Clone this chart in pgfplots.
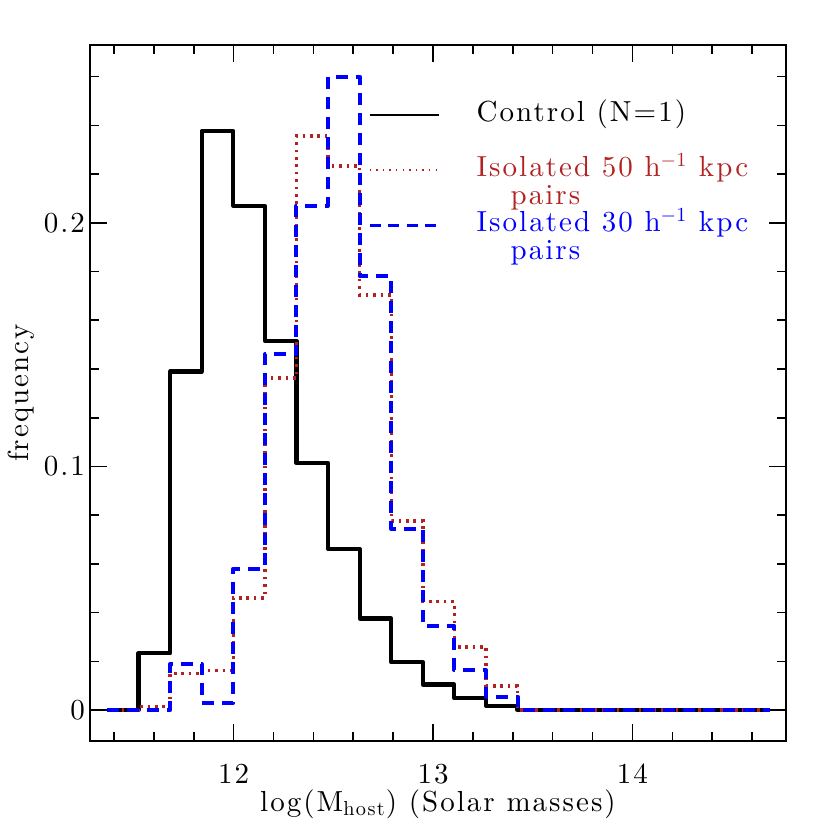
\documentclass[border=0pt]{standalone}
\usepackage{fontspec}
\setmainfont{lmroman10-regular.otf}[LetterSpace=7]
\usepackage{pgfplots}
\pgfplotsset{compat=1.18}
\definecolor{fire}{RGB}{178,34,34}
\definecolor{pblue}{RGB}{0,0,255}
\newcommand\myfont{\fontsize{14.5}{17}\selectfont}
\begin{document}
\begin{tikzpicture}
\begin{axis}[
  scale only axis, width=348pt, height=348pt,
  xmin=11.28, xmax=14.77, ymin=-0.0127, ymax=0.273,
  xtick={12,13,14}, minor xtick={11.4,11.6,...,14.61},
  ytick={0,0.1,0.2}, yticklabels={0,0.1,0.2},
  minor ytick={0.02,0.04,...,0.27},
  tick align=inside,
  major tick length=8.5pt, minor tick length=4.5pt,
  every tick/.style={black, line width=0.8pt},
  axis line style={line width=0.8pt},
  /pgf/number format/assume math mode=true,
  tick label style={font=\myfont},
  xticklabel style={yshift=-8pt},
  yticklabel style={xshift=1pt},
  label style={font=\myfont},
  xlabel={log(M\textsubscript{host}) (Solar masses)},
  ylabel={frequency},
  xlabel style={yshift=4pt},
  ylabel style={yshift=-2pt},
  legend image code/.code={\draw[#1] (0pt,0pt) -- (34.5pt,0pt);},
  legend style={draw=none, fill=none, at={(rel axis cs:0.391,0.925)}, anchor=north west,
    font=\myfont, row sep=0.3pt, legend cell align=left,
    nodes={text height=9.5pt, text depth=3pt, inner sep=0.5pt},
    /tikz/every odd column/.append style={column sep=18pt}},
]
\addplot[const plot, black, line width=2.1pt, line join=round, forget plot] coordinates {
(11.365,0) (11.523,0.0233) (11.682,0.139) (11.840,0.2377) (11.999,0.207)
(12.157,0.1516) (12.315,0.1014) (12.474,0.0661) (12.632,0.0376) (12.791,0.0196)
(12.949,0.0105) (13.107,0.0048) (13.266,0.0018) (13.424,0) (13.583,0)
(13.741,0) (13.899,0) (14.058,0) (14.216,0) (14.375,0) (14.533,0) (14.691,0)};
\addplot[const plot, fire, line width=1.8pt, dash pattern=on 1.3pt off 2.4pt, forget plot] coordinates {
(11.365,0) (11.523,0.0015) (11.682,0.015) (11.840,0.0163) (11.999,0.046)
(12.157,0.1363) (12.315,0.2356) (12.474,0.2233) (12.632,0.1704) (12.791,0.0776)
(12.949,0.0445) (13.107,0.026) (13.266,0.010) (13.424,0) (13.583,0)
(13.741,0) (13.899,0) (14.058,0) (14.216,0) (14.375,0) (14.533,0) (14.691,0)};
\addplot[const plot, pblue, line width=2pt, dash pattern=on 6pt off 4pt, line join=round, forget plot] coordinates {
(11.365,0) (11.523,0) (11.682,0.0189) (11.840,0.003) (11.999,0.058)
(12.157,0.146) (12.315,0.207) (12.474,0.260) (12.632,0.178) (12.791,0.0743)
(12.949,0.0346) (13.107,0.0164) (13.266,0.0055) (13.424,0) (13.583,0)
(13.741,0) (13.899,0) (14.058,0) (14.216,0) (14.375,0) (14.533,0) (14.691,0)};
\addlegendimage{draw=black, line width=0.8pt}
\addlegendentry{Control (N=1)}
\addlegendimage{empty legend}
\addlegendentry{}
\addlegendimage{draw=fire, line width=0.8pt, dash pattern=on 0.7pt off 2.6pt}
\addlegendentry{\textcolor{fire}{Isolated 50 h$^{-1}$ kpc}}
\addlegendimage{empty legend}
\addlegendentry{\textcolor{fire}{\hspace*{17pt}pairs}}
\addlegendimage{draw=pblue, color=pblue, line width=1.1pt, dash pattern=on 5.5pt off 3.8pt}
\addlegendentry{\textcolor{pblue}{Isolated 30 h$^{-1}$ kpc}}
\addlegendimage{empty legend}
\addlegendentry{\textcolor{pblue}{\hspace*{17pt}pairs}}
\end{axis}
\path ([shift={(-45pt,-44.5pt)}]current axis.south west) rectangle ([shift={(22pt,22.5pt)}]current axis.north east);
\end{tikzpicture}
\end{document}
